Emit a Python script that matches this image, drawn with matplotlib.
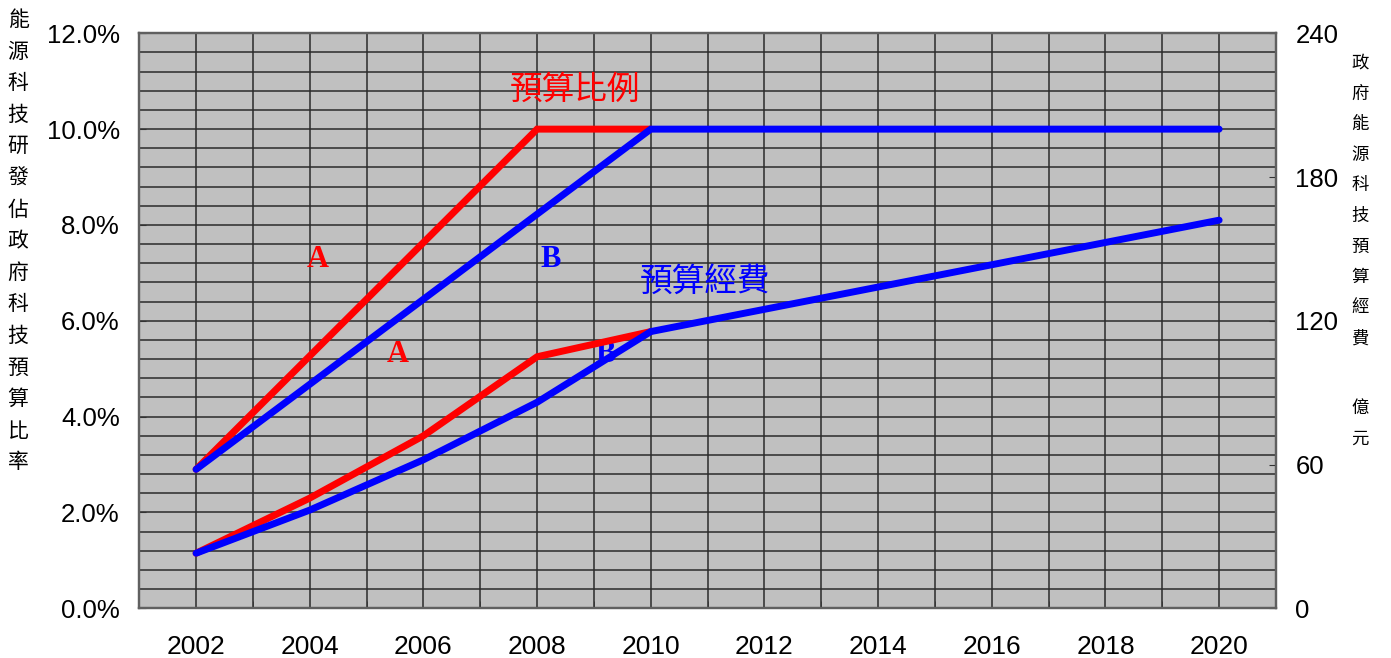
import numpy as np
import matplotlib.pyplot as plt
from matplotlib.ticker import FuncFormatter, MultipleLocator

# budget share of S&T budget (%), left axis
pct_years_a = [2002, 2008, 2010]
pct_a = [2.9, 10.0, 10.0]
pct_years_b = [2002, 2010, 2020]
pct_b = [2.9, 10.0, 10.0]

# energy S&T budget (100 million NTD), right axis
amt_years_a = [2002, 2004, 2006, 2008, 2010]
amt_a = [23, 46, 72, 105, 115.5]
amt_years_b = [2002, 2004, 2006, 2008, 2010, 2020]
amt_b = [23, 41, 62, 86, 115.5, 162]

x_ticks = [2002, 2004, 2006, 2008, 2010, 2012, 2014, 2016, 2018, 2020]
left_ticks = [0, 2, 4, 6, 8, 10, 12]
right_ticks = [0, 60, 120, 180, 240]

left_label = "能源科技研發佔政府科技預算比率"
right_label = "政府能源科技預算經費"
right_unit = "億元"

RED = "#ff0000"
BLUE = "#0000ff"
CJK = ["Noto Sans CJK TC", "DejaVu Sans"]

fig = plt.figure(figsize=(13.91, 6.58), dpi=100)
ax = fig.add_axes([0.1001, 0.0755, 0.8172, 0.8739])
ax2 = ax.twinx()

ax.set_facecolor("#c0c0c0")
ax.set_xlim(2001, 2021)
ax.set_ylim(0, 12)
ax2.set_ylim(0, 240)

# grid: every year, every 0.4 %
for yr in range(2002, 2021):
    ax.axvline(yr, color="#2a2a2a", lw=1.1, zorder=1)
for v in np.arange(0.4, 12, 0.4):
    ax.axhline(v, color="#2a2a2a", lw=1.1, zorder=1)

lw = 5.0
ax.plot(pct_years_a, pct_a, color=RED, lw=lw, solid_capstyle="round",
        solid_joinstyle="miter", zorder=3)
ax.plot(pct_years_b, pct_b, color=BLUE, lw=lw, solid_capstyle="round",
        solid_joinstyle="miter", zorder=4)
ax2.plot(amt_years_a, amt_a, color=RED, lw=lw, solid_capstyle="round",
         solid_joinstyle="miter", zorder=3)
ax2.plot(amt_years_b, amt_b, color=BLUE, lw=lw, solid_capstyle="round",
         solid_joinstyle="miter", zorder=4)

# series labels
serif = dict(family="Liberation Serif", fontweight="bold", fontsize=22,
             ha="center", va="center", zorder=5)
ax.text(2004.14, 7.27, "A", color=RED, **serif)
ax.text(2008.23, 7.27, "B", color=BLUE, **serif)
ax.text(2005.55, 5.29, "A", color=RED, **serif)
ax.text(2009.21, 5.29, "B", color=BLUE, **serif)
ax.text(2008.67, 10.82, "預算比例", color=RED, family=CJK, fontsize=23.5,
        ha="center", va="center", zorder=5)
ax.text(2010.96, 6.82, "預算經費", color=BLUE, family=CJK, fontsize=23.5,
        ha="center", va="center", zorder=5)

# axes, ticks
ax.set_xticks(x_ticks)
ax.set_xticks(range(2003, 2021, 2), minor=True)
ax.tick_params(axis="x", which="major", length=0, pad=19, labelsize=19)
ax.tick_params(axis="x", which="minor", direction="in", length=5,
               color="#333333")
ax.set_yticks(left_ticks)
ax.yaxis.set_minor_locator(MultipleLocator(0.4))
ax.yaxis.set_major_formatter(FuncFormatter(lambda v, p: f"{v:.1f}%"))
ax.tick_params(axis="y", which="major", direction="in", length=5, pad=14,
               labelsize=18.5, color="#333333")
ax.tick_params(axis="y", which="minor", length=0)
ax2.set_yticks(right_ticks)
ax2.tick_params(axis="y", direction="in", length=5, pad=14, labelsize=18.5,
                color="#333333")
for a in (ax, ax2):
    for lbl in a.get_xticklabels() + a.get_yticklabels():
        lbl.set_family("Liberation Sans")
    for s in a.spines.values():
        s.set_color("#606060")
        s.set_linewidth(1.6)

# vertical axis titles, one character per row
W, H = 1391, 658
for i, ch in enumerate(left_label):
    fig.text(18 / W, 1 - (20 + i * 31.6) / H, ch, family=CJK, fontsize=15,
             ha="center", va="center")
for i, ch in enumerate(right_label):
    fig.text(1360 / W, 1 - (63 + i * 30.6) / H, ch, family=CJK, fontsize=12.5,
             ha="center", va="center")
for i, ch in enumerate(right_unit):
    fig.text(1360 / W, 1 - (408 + i * 30.6) / H, ch, family=CJK, fontsize=12.5,
             ha="center", va="center")

fig.savefig("out.png", dpi=100)
